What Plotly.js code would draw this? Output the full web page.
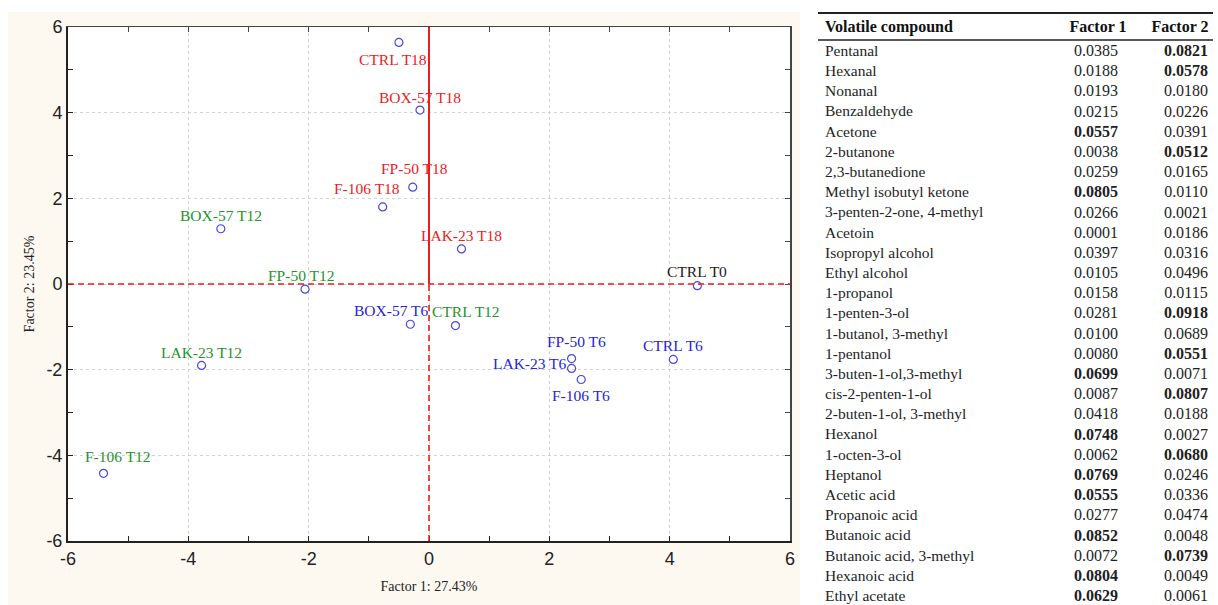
<!DOCTYPE html>
<html>
<head>
<meta charset="utf-8">
<script src="https://cdn.plot.ly/plotly-3.0.1.min.js"></script>
<style>html,body{margin:0;padding:0;background:#fff;}#chart{width:1218px;height:605px;}</style>
</head>
<body>
<div id="chart"></div>
<script>
// ---- Scatter data (factor scores) ----
const samples = ['CTRL T0','CTRL T6','BOX-57 T6','FP-50 T6','LAK-23 T6','F-106 T6',
  'CTRL T12','BOX-57 T12','FP-50 T12','LAK-23 T12','F-106 T12',
  'CTRL T18','BOX-57 T18','FP-50 T18','LAK-23 T18','F-106 T18'];
const sampleTime = ['T0','T6','T6','T6','T6','T6','T12','T12','T12','T12','T12','T18','T18','T18','T18','T18'];
const factor1 = [4.46, 4.06, -0.31, 2.37, 2.37, 2.53, 0.44, -3.46, -2.06, -3.78, -5.41, -0.50, -0.15, -0.27, 0.54, -0.77];
const factor2 = [-0.04, -1.76, -0.94, -1.74, -1.97, -2.23, -0.97, 1.29, -0.12, -1.90, -4.42, 5.64, 4.06, 2.26, 0.82, 1.80];
const tickValues = [-6, -4, -2, 0, 2, 4, 6];
const tickLabels = ['-6', '-4', '-2', '0', '2', '4', '6'];

// ---- Table data ----
const compounds = ['Pentanal','Hexanal','Nonanal','Benzaldehyde','Acetone','2-butanone','2,3-butanedione',
  'Methyl isobutyl ketone','3-penten-2-one, 4-methyl','Acetoin','Isopropyl alcohol','Ethyl alcohol',
  '1-propanol','1-penten-3-ol','1-butanol, 3-methyl','1-pentanol','3-buten-1-ol,3-methyl','cis-2-penten-1-ol',
  '2-buten-1-ol, 3-methyl','Hexanol','1-octen-3-ol','Heptanol','Acetic acid','Propanoic acid','Butanoic acid',
  'Butanoic acid, 3-methyl','Hexanoic acid','Ethyl acetate'];
const loading1 = [0.0385,0.0188,0.0193,0.0215,0.0557,0.0038,0.0259,0.0805,0.0266,0.0001,0.0397,0.0105,
  0.0158,0.0281,0.0100,0.0080,0.0699,0.0087,0.0418,0.0748,0.0062,0.0769,0.0555,0.0277,0.0852,0.0072,0.0804,0.0629];
const loading2 = [0.0821,0.0578,0.0180,0.0226,0.0391,0.0512,0.0165,0.0110,0.0021,0.0186,0.0316,0.0496,
  0.0115,0.0918,0.0689,0.0551,0.0071,0.0807,0.0188,0.0027,0.0680,0.0246,0.0336,0.0474,0.0048,0.0739,0.0049,0.0061];
const bold1 = [0,0,0,0,1,0,0,1,0,0,0,0,0,0,0,0,1,0,0,1,0,1,1,0,1,0,1,1];
const bold2 = [1,1,0,0,0,1,0,0,0,0,0,0,0,1,0,1,0,1,0,0,1,0,0,0,0,1,0,0];
const tableHeader = ['Volatile compound','Factor 1','Factor 2'];
const axisTitles = ['Factor 1: 27.43%','Factor 2: 23.45%'];

// ---- Styling / layout constants ----
const W = 1218, H = 605;
const PL = 68, PR = 790, PT = 27, PB = 541;
const timeColor = {T0:'#1a1a1a', T6:'#2424d8', T12:'#23932a', T18:'#ee1c1c'};
// label offsets in px [dx, dy(down)]
const labelOffsets = [[0,-14],[0,-14],[-19,-14],[5,-17],[-42,-5],[0,16],
  [11,-14],[0,-13],[-4,-14],[0,-13],[14,-17],
  [-6,17],[0,-13],[2,-19],[0,-13],[-16,-18]];
const RANGE = [-6, 6];
const ROW0_Y = 52, ROW_H = 20.19, HEADER_Y = 28;
const COL_X = [825, 1096, 1186];
const HEAD_X = [825, 1098, 1180];
const serif = 'Liberation Serif, Times New Roman, serif';
const sans = 'Liberation Sans, Arial, sans-serif';
const CREAM = '#fdf9f1';

const traces = [];
traces.push({
  type:'scatter', mode:'markers', x: factor1, y: factor2, xaxis:'x', yaxis:'y',
  marker:{symbol:'circle-open', size:8, color:'#4848e0', line:{width:1.2, color:'#4848e0'}},
  hoverinfo:'skip', showlegend:false, cliponaxis:false
});
// dummy trace for overlay frame axes
traces.push({type:'scatter', mode:'markers', x:[null], y:[null], xaxis:'x2', yaxis:'y2', showlegend:false, hoverinfo:'skip'});

// Table as text traces
const rowY = compounds.map((_, i) => ROW0_Y + i * ROW_H);
const fmt = (v, b) => b ? '<b>' + v.toFixed(4) + '</b>' : v.toFixed(4);
traces.push({type:'scatter', mode:'text', xaxis:'x3', yaxis:'y3', x: compounds.map(()=>COL_X[0]), y: rowY,
  text: compounds, textposition:'middle right', textfont:{family:serif, size:15.5, color:'#1e1e1e'},
  hoverinfo:'skip', showlegend:false, cliponaxis:false});
traces.push({type:'scatter', mode:'text', xaxis:'x3', yaxis:'y3', x: loading1.map(()=>COL_X[1]), y: rowY,
  text: loading1.map((v,i)=>fmt(v,bold1[i])), textposition:'middle center', textfont:{family:serif, size:16, color:'#1e1e1e'},
  hoverinfo:'skip', showlegend:false, cliponaxis:false});
traces.push({type:'scatter', mode:'text', xaxis:'x3', yaxis:'y3', x: loading2.map(()=>COL_X[2]), y: rowY,
  text: loading2.map((v,i)=>fmt(v,bold2[i])), textposition:'middle center', textfont:{family:serif, size:16, color:'#1e1e1e'},
  hoverinfo:'skip', showlegend:false, cliponaxis:false});
traces.push({type:'scatter', mode:'text', xaxis:'x3', yaxis:'y3', x: HEAD_X, y: HEAD_X.map(()=>HEADER_Y),
  text: tableHeader.map(t=>'<b>'+t+'</b>'), textposition:['middle right','middle center','middle center'],
  textfont:{family:serif, size:16, color:'#111'}, hoverinfo:'skip', showlegend:false, cliponaxis:false});

const annotations = samples.map((s, i) => ({
  x: factor1[i], y: factor2[i], xref:'x', yref:'y', text: s, showarrow:false,
  xshift: labelOffsets[i][0], yshift: -labelOffsets[i][1],
  font:{family:serif, size:15.5, color: timeColor[sampleTime[i]]}
}));

const px = v => v / W, py = v => 1 - v / H;
const shapes = [
  // white areas outside the cream panel (paper is cream)
  {type:'rect', xref:'paper', yref:'paper', x0:0, x1:1, y0:py(12), y1:1, fillcolor:'#ffffff', line:{width:0}, layer:'below'},
  {type:'rect', xref:'paper', yref:'paper', x0:0, x1:px(8), y0:0, y1:1, fillcolor:'#ffffff', line:{width:0}, layer:'below'},
  {type:'rect', xref:'paper', yref:'paper', x0:px(800), x1:1, y0:0, y1:1, fillcolor:'#ffffff', line:{width:0}, layer:'below'},
  {type:'line', xref:'x', yref:'y', x0:0, x1:0, y0:0, y1:RANGE[1], line:{color:'#ee1c1c', width:2}},
  {type:'line', xref:'x', yref:'y', x0:0, x1:0, y0:RANGE[0], y1:0, line:{color:'#ee1c1c', width:1.6, dash:'6px,4px'}},
  {type:'line', xref:'x', yref:'y', x0:RANGE[0], x1:RANGE[1], y0:0, y1:0, line:{color:'#ee1c1c', width:1.6, dash:'6px,4px'}},
  {type:'line', xref:'paper', yref:'paper', x0:px(818), x1:px(1213), y0:py(13), y1:py(13), line:{color:'#222', width:2}},
  {type:'line', xref:'paper', yref:'paper', x0:px(818), x1:px(1213), y0:py(40), y1:py(40), line:{color:'#222', width:1.4}}
];

const xdom = [PL / W, PR / W], ydom = [1 - PB / H, 1 - PT / H];
const axisCommon = {range:RANGE, tickmode:'array', tickvals:tickValues, ticktext:tickLabels,
  ticks:'inside', ticklen:5, tickcolor:'#222', tickwidth:1,
  showgrid:true, gridcolor:'#d2d2d2', griddash:'3px,3px', gridwidth:1, zeroline:false,
  showline:true, linecolor:'#222', linewidth:2, tickfont:{family:sans, size:18, color:'#222'},
  minor:{dtick:1, tick0:0, ticks:'inside', ticklen:5, tickcolor:'#222', showgrid:false},
  automargin:false, fixedrange:true};
const layout = {
  width: W, height: H, margin:{l:0, r:0, t:0, b:0}, paper_bgcolor:CREAM, plot_bgcolor:'#ffffff',
  showlegend:false, hovermode:false,
  xaxis: Object.assign({}, axisCommon, {domain:xdom, anchor:'y',
    title:{text: axisTitles[0], font:{family:serif, size:14, color:'#222'}, standoff:14}}),
  yaxis: Object.assign({}, axisCommon, {domain:ydom, anchor:'x',
    title:{text: axisTitles[1], font:{family:serif, size:14, color:'#222'}, standoff:8}}),
  xaxis2:{overlaying:'x', side:'top', anchor:'y2', range:RANGE, dtick:1, ticks:'inside', ticklen:5, tickcolor:'#444',
    showticklabels:false, showgrid:false, zeroline:false, showline:true, linecolor:'#444', linewidth:1.5, fixedrange:true},
  yaxis2:{overlaying:'y', side:'right', anchor:'x2', range:RANGE, dtick:1, ticks:'inside', ticklen:5, tickcolor:'#444',
    showticklabels:false, showgrid:false, zeroline:false, showline:true, linecolor:'#444', linewidth:1.5, fixedrange:true},
  xaxis3:{domain:[800 / W, 1], range:[800, W], visible:false, anchor:'y3', fixedrange:true},
  yaxis3:{domain:[0, 1], range:[H, 0], visible:false, anchor:'x3', fixedrange:true},
  shapes: shapes, annotations: annotations
};
Plotly.newPlot('chart', traces, layout, {displayModeBar:false, staticPlot:true});
</script>
</body>
</html>
